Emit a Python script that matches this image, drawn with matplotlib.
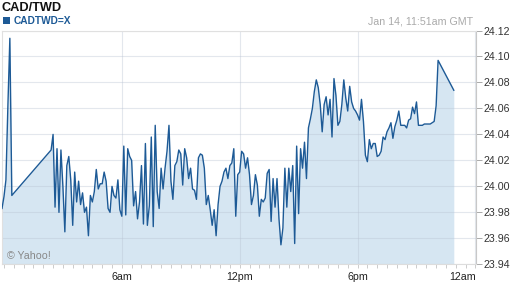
import numpy as np
import matplotlib.pyplot as plt
from matplotlib.patches import Rectangle
from matplotlib.ticker import MultipleLocator

plt.rcParams['font.family'] = ['Liberation Sans', 'DejaVu Sans']

title = 'CAD/TWD'
symbol = 'CADTWD=X'
stamp = 'Jan 14, 11:51am GMT'

# quotes every 0.1 h starting just before midnight, None = no quote (line just joins across)
t_start = -0.1
t_step = 0.1
rate = [
    23.983, 23.992, 24.005, 24.062, 24.114, 23.993, None, None, None, None,
    None, None, None, None, None, None, None, None, None, None,
    None, None, None, None, None, 24.028, 24.040, 23.984, 24.029, 23.980,
    24.028, 24.000, 23.965, 24.016, 24.023, 24.005, 23.970, 24.011, 23.988, 24.004,
    23.986, 23.995, 23.980, 23.984, 23.962, 23.993, 23.988, 23.996, 24.013, 23.998,
    24.002, 24.002, 24.011, 24.004, 23.983, 23.980, 24.000, 23.993, 23.991, 24.005,
    23.982, 23.977, 24.031, 23.978, 24.029, 24.023, 24.020, 23.985, 23.996, 23.975,
    23.988, 24.016, 23.971, 24.033, 23.970, 23.985, 24.038, 23.969, 24.047, 23.996,
    23.983, 24.014, 23.998, 24.014, 24.027, 24.047, 24.004, 23.990, 24.016, 24.019,
    24.028, 24.025, 24.001, 24.029, 24.022, 24.006, 24.014, 23.998, 23.997, 23.990,
    24.022, 24.025, 24.024, 24.014, 23.986, 23.993, 23.982, 23.970, 23.982, 23.962,
    23.986, 24.000, 24.004, 24.011, 24.014, 24.006, 24.016, 24.018, 24.029, 23.977,
    24.009, 24.011, 24.027, 24.025, 24.014, 24.022, 24.009, 23.986, 23.993, 24.009,
    24.001, 23.977, 23.990, 23.988, 23.991, 24.010, 24.013, 23.973, 24.006, 23.984,
    24.006, 23.975, 23.955, 23.968, 24.014, 23.984, 24.014, 23.996, 24.016, 23.956,
    24.031, 23.979, 24.029, 24.014, 24.034, 24.006, 24.045, 24.052, 24.060, 24.073,
    24.082, 24.076, 24.063, 24.042, 24.063, 24.069, 24.055, 24.067, 24.038, 24.083,
    24.070, 24.047, 24.050, 24.063, 24.082, 24.068, 24.058, 24.077, 24.065, 24.060,
    24.058, 24.055, 24.051, 24.067, 24.050, 24.024, 24.019, 24.036, 24.029, 24.033,
    24.033, 24.023, 24.024, 24.027, 24.038, 24.036, 24.042, 24.045, 24.049, 24.037,
    24.046, 24.051, 24.058, 24.047, 24.047, 24.047, 24.045, 24.051, 24.052, 24.061,
    24.056, 24.065, 24.047, 24.047, 24.047, 24.048, 24.048, 24.048, 24.048, 24.049,
    24.050, 24.062, 24.097, None, None, None, None, None, None, None,
    24.074,
]

xtick_pos = [6, 12, 18, 24]
xtick_lab = ['6am', '12pm', '6pm', '12am']
ytick_vals = [23.94, 23.96, 23.98, 24.00, 24.02, 24.04, 24.06, 24.08, 24.10, 24.12]

line_col = '#1d5a96'
fill_col = '#d6e6f2'

t = t_start + t_step * np.arange(len(rate))
keep = np.array([r is not None for r in rate])
tt = t[keep]
vv = np.array([r for r in rate if r is not None])

W, H = 512, 288
fig = plt.figure(figsize=(W / 100, H / 100), dpi=100)
ax = fig.add_axes([2 / W, 1 - 264.3 / H, 474 / W, (264.3 - 30.5) / H])

ax.fill_between(tt, vv, ytick_vals[0], color=fill_col, lw=0, zorder=1)
ax.plot(tt, vv, color=line_col, lw=1.0, zorder=3)

ax.set_xlim(-0.1, 24.03)
ax.set_ylim(ytick_vals[0], ytick_vals[-1])

ax.yaxis.tick_right()
ax.set_yticks(ytick_vals)
ax.set_yticklabels(['%.2f' % y for y in ytick_vals])
ax.set_xticks(xtick_pos)
ax.set_xticklabels(xtick_lab)
ax.xaxis.set_minor_locator(MultipleLocator(0.5))
ax.get_xticklabels()[-1].set_horizontalalignment('right')

ax.grid(True, which='major', color='#b9c3d3', alpha=0.4, lw=0.8)
ax.tick_params(axis='y', direction='out', length=4, width=0.7, color='#aaaaaa',
               labelsize=7.7, labelcolor='#333333', pad=1.5)
ax.tick_params(axis='x', which='both', direction='out', length=3, width=0.7,
               color='#cccccc', labelsize=7.7, labelcolor='#222222', pad=2.5)

for side in ['top', 'left']:
    ax.spines[side].set_color('#e0e0e0')
    ax.spines[side].set_linewidth(0.8)
ax.spines['bottom'].set_color('#dddddd')
ax.spines['bottom'].set_linewidth(0.8)
ax.spines['right'].set_color('#c8c8c8')
ax.spines['right'].set_linewidth(0.8)

fig.text(2 / W, 1 - 11 / H, title, fontsize=9.2, weight='bold', color='#111111', va='baseline')
fig.add_artist(Rectangle((2.7 / W, 1 - 24.3 / H), 7.3 / W, 7.6 / H,
                         transform=fig.transFigure, color=line_col, lw=0))
fig.text(13.3 / W, 1 - 24 / H, symbol, fontsize=7.3, weight='bold', color=line_col, va='baseline')
fig.text(473 / W, 1 - 24 / H, stamp, fontsize=7.7, color='#aaaaaa', ha='right', va='baseline')
fig.text(6.7 / W, 1 - 259.3 / H, '\u00a9 Yahoo!', fontsize=7.7, color='#888888', va='baseline')

fig.savefig('out.png', dpi=100)
